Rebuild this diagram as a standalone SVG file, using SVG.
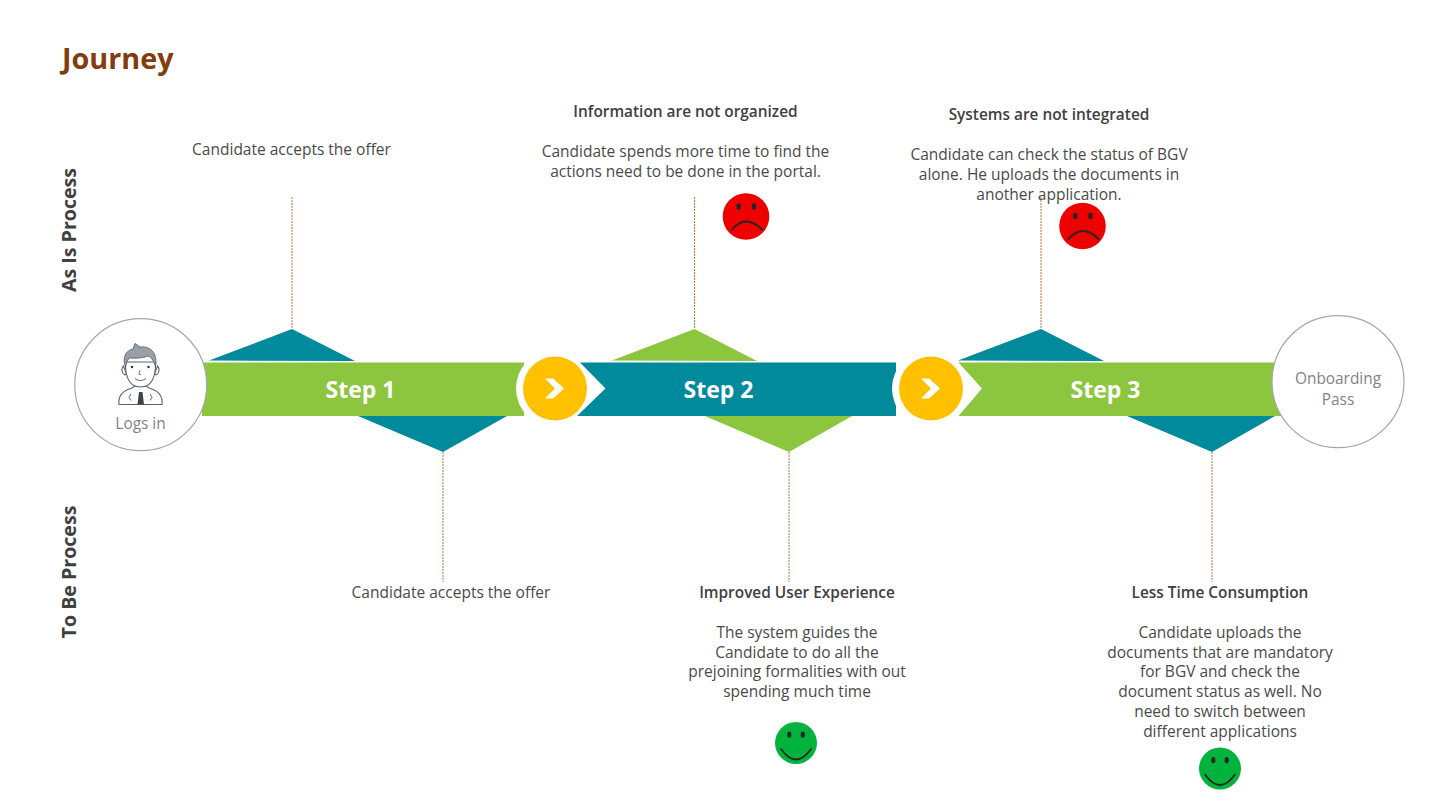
<svg xmlns="http://www.w3.org/2000/svg" width="1430" height="804" viewBox="0 0 1430 804">
<style>
text{font-family:"Open Sans","Noto Sans","Liberation Sans",sans-serif}
.b{font-size:15.5px;fill:#4a4a4a;text-anchor:middle}
.h{font-size:15.4px;font-weight:600;fill:#404040;text-anchor:middle}
.s{font-size:23px;font-weight:700;fill:#fff;text-anchor:middle}
.v{font-size:19.6px;font-weight:700;fill:#404040;text-anchor:middle}
.n{font-size:15.4px;fill:#857f8c;text-anchor:middle}
.t{fill:#008a9b}.g{fill:#8cc63f}
.ld{stroke:#c9703a;stroke-width:1;stroke-dasharray:2 1;fill:none}
.c{fill:#fff;stroke:#a6a6a6;stroke-width:1.2}
.y{fill:#ffc000}.w{fill:#fff}
.ic{fill:#fff;stroke:#5a6470;stroke-width:1.1}
.m{fill:none;stroke:#262626;stroke-width:1.8;stroke-linecap:round}
.e{fill:#262626}
.r{fill:#ee0000}.gr{fill:#00b33c}
</style>
<defs>
<g id="sad"><circle r="23.300" class="r"/><ellipse cx="-7.300" cy="-10" rx="2.300" ry="3.300" class="e"/><ellipse cx="8" cy="-10" rx="2.300" ry="3.300" class="e"/><path d="M-14 13Q0-3 16 13" class="m"/></g>
<g id="happy"><circle r="21" class="gr"/><ellipse cx="-6.700" cy="-8.300" rx="2.100" ry="3.100" class="e"/><ellipse cx="6.700" cy="-8.300" rx="2.100" ry="3.100" class="e"/><path d="M-15 6Q0 27 15 6" class="m"/></g>
<g id="chev"><polygon points="-10,-10 -2,-10 9,0 -2,10 -10,10 0,0" class="w"/></g>
</defs>

<text id="title" x="62" y="69" style="font-size:28.800px;font-weight:700;fill:#833c0b">Journey</text>
<text class="v" transform="translate(76 230) rotate(-90)">As Is Process</text>
<text class="v" transform="translate(76 572) rotate(-90)">To Be Process</text>

<g id="connectors">
<path class="ld" d="M292 197V329M694.500 197V329M1041 197V329M443 452V582M789 452V582M1212 452V582"/>
</g>

<g id="step1">
<polygon class="t" points="209,360.500 292,329 355,361"/>
<polygon class="t" points="358,416 443,452 507,416"/>
<rect class="g" x="202" y="362.500" width="322" height="53.500"/>
<text class="s" x="360.500" y="398">Step 1</text>
</g>

<g id="step2">
<polygon class="g" points="612,360.500 694.500,329 757,361"/>
<polygon class="g" points="705,416 789,452 852,416"/>
<polygon class="t" points="580,362.500 896,362.500 896,416 577,416 605.500,388.500"/>
<text class="s" x="718.500" y="398">Step 2</text>
</g>

<g id="step3">
<polygon class="t" points="958,360.500 1041,329 1104,361"/>
<polygon class="t" points="1127,416 1212,452 1275,416"/>
<polygon class="g" points="958.500,362.500 1283,362.500 1283,416 958.500,416 982,388.500"/>
<text class="s" x="1105.500" y="398">Step 3</text>
</g>

<g id="arrow1"><path class="w" d="M555 349.500A39 39 0 0 0 555 427.500Z"/><circle cx="555" cy="388.500" r="32" class="y"/><use href="#chev" x="555" y="388.500"/></g>
<g id="arrow2"><path class="w" d="M931 349.500A39 39 0 0 0 931 427.500Z"/><circle cx="931" cy="388.500" r="32" class="y"/><use href="#chev" x="931" y="388.500"/></g>

<g id="start">
<circle class="c" cx="140.700" cy="384.700" r="66"/>
<g id="person">
<path class="ic" d="M119 404.500C118 396 122 391 131 388.500L135 386H146L150 388.500C159 391 163 396 162 404.500Z"/>
<path d="M139 392H142.500L144 404.500H137.500Z" fill="#39424d"/>
<path class="ic" d="M123.500 366a2.500 4 0 0 0 3 8zM157.500 366a2.500 4 0 0 1-3 8z"/>
<path class="ic" d="M125.500 362C125 378 130 387 140.500 387C151 387 156 378 155.500 362Z"/>
<path d="M125.500 367C122 358 126 350 133 349L135 343.500L140 347C150 346 158 352 155.500 367C154 361 152 358 148 356C141 359 132 358 129 358C127 361 126.500 363 125.500 367Z" fill="#9a9fa6" stroke="#5a6470" stroke-width=".9"/>
<circle cx="132" cy="367" r="1.200" fill="#2b3038"/><circle cx="148.500" cy="367" r="1.200" fill="#2b3038"/>
<path d="M135 378.500Q140.500 382.500 146 378.500" fill="none" stroke="#5a6470" stroke-width="1"/>
<path d="M140 370L138.800 374.500H141" fill="none" stroke="#5a6470" stroke-width=".8"/>
<path d="M131 394L129 397.500L131 400.500M150 394L152 397.500L150 400.500" fill="none" stroke="#5a6470" stroke-width="1"/>
</g>
<text class="n" x="140.500" y="428.500">Logs in</text>
</g>

<g id="end">
<circle class="c" cx="1338" cy="381.700" r="66"/>
<text class="n" x="1338" y="384">Onboarding</text>
<text class="n" x="1338" y="405">Pass</text>
</g>

<g id="note-asis1"><text class="b" x="291.500" y="155">Candidate accepts the offer</text></g>
<g id="note-asis2">
<text class="h" x="685.500" y="117">Information are not organized</text>
<text class="b" x="685.500" y="156.500">Candidate spends more time to find the</text>
<text class="b" x="685.500" y="176.500">actions need to be done in the portal.</text>
<use href="#sad" x="746" y="216.500"/>
</g>
<g id="note-asis3">
<text class="h" x="1049" y="120">Systems are not integrated</text>
<text class="b" x="1049" y="159.500">Candidate can check the status of BGV</text>
<text class="b" x="1049" y="179.500">alone. He uploads the documents in</text>
<text class="b" x="1049" y="199.500">another application.</text>
<use href="#sad" x="1082.500" y="226"/>
</g>
<g id="note-tobe1"><text class="b" x="451" y="598">Candidate accepts the offer</text></g>
<g id="note-tobe2">
<text class="h" x="797" y="598">Improved User Experience</text>
<text class="b" x="797" y="637.500">The system guides the</text>
<text class="b" x="797" y="657.500">Candidate to do all the</text>
<text class="b" x="797" y="677">prejoining formalities with out</text>
<text class="b" x="797" y="696.800">spending much time</text>
<use href="#happy" x="796" y="743"/>
</g>
<g id="note-tobe3">
<text class="h" x="1220" y="598">Less Time Consumption</text>
<text class="b" x="1220" y="637.500">Candidate uploads the</text>
<text class="b" x="1220" y="657.500">documents that are mandatory</text>
<text class="b" x="1220" y="677">for BGV and check the</text>
<text class="b" x="1220" y="696.800">document status as well. No</text>
<text class="b" x="1220" y="716.500">need to switch between</text>
<text class="b" x="1220" y="736.500">different applications</text>
<use href="#happy" x="1220" y="768.500"/>
</g>
</svg>
